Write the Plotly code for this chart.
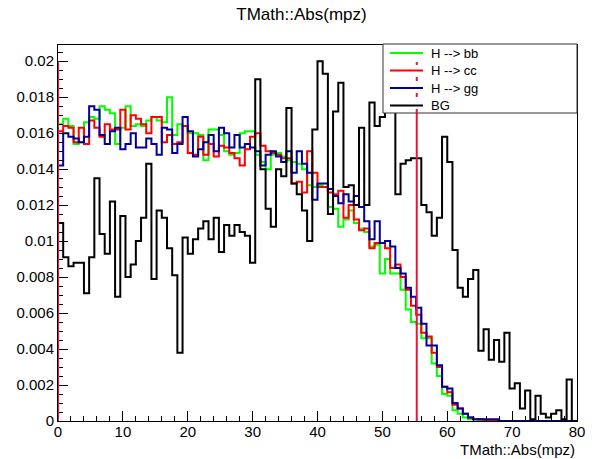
import numpy as np
import plotly.graph_objects as go

# ---------------- data ----------------
x_min, x_max, n_bins = 0.0, 80.0, 100

bb = [0.0165, 0.0168, 0.0164, 0.0154, 0.0155, 0.0166, 0.0169, 0.0168, 0.0175, 0.0173,
      0.0171, 0.0154, 0.0163, 0.0175, 0.0164, 0.0165, 0.0164, 0.0167, 0.0169, 0.0167,
      0.0166, 0.0180, 0.0159, 0.0165, 0.0164, 0.0160, 0.0160, 0.0159, 0.0145, 0.0162,
      0.0162, 0.0159, 0.0150, 0.0148, 0.0149, 0.0160, 0.0161, 0.0161, 0.0148, 0.0144,
      0.0140, 0.0148, 0.0149, 0.0147, 0.0145, 0.0144, 0.0143, 0.0140, 0.0131, 0.0130,
      0.0131, 0.0130, 0.0119, 0.0118, 0.0108, 0.0112, 0.0117, 0.0110, 0.0107, 0.0105,
      0.0097, 0.0098, 0.0082, 0.0090, 0.0082, 0.0082, 0.0073, 0.0062, 0.0055, 0.0054,
      0.0046, 0.0046, 0.0032, 0.0025, 0.0015, 0.0014, 0.0006, 0.0004, 0.0002, 0.0001,
      0.0001, 0.0, 0.0, 0.0, 0.0, 0.0, 0.0, 0.0, 0.0, 0.0,
      0.0, 0.0, 0.0, 0.0, 0.0, 0.0, 0.0, 0.0, 0.0, 0.0]

cc = [0.0161, 0.0164, 0.0163, 0.0155, 0.0163, 0.0154, 0.0167, 0.0163, 0.0158, 0.0165,
      0.0162, 0.0162, 0.0173, 0.0162, 0.0170, 0.0168, 0.0165, 0.0160, 0.0169, 0.0169,
      0.0155, 0.0159, 0.0154, 0.0155, 0.0164, 0.0149, 0.0148, 0.0158, 0.0148, 0.0154,
      0.0147, 0.0153, 0.0152, 0.0149, 0.0146, 0.0142, 0.0151, 0.0158, 0.0160, 0.0153,
      0.0150, 0.0149, 0.0148, 0.0146, 0.0146, 0.0132, 0.0133, 0.0127, 0.0150, 0.0138,
      0.0130, 0.0130, 0.0127, 0.0126, 0.0128, 0.0113, 0.0120, 0.0112, 0.0106, 0.0107,
      0.0096, 0.0099, 0.0099, 0.0096, 0.0085, 0.0087, 0.0080, 0.0073, 0.0064, 0.0059,
      0.0049, 0.0047, 0.0038, 0.0030, 0.0019, 0.0016, 0.0009, 0.0007, 0.0004, 0.0002,
      0.0001, 0.0001, 0.0, 0.0, 0.0, 0.0, 0.0, 0.0, 0.0, 0.0,
      0.0, 0.0, 0.0, 0.0, 0.0, 0.0, 0.0, 0.0, 0.0, 0.0]

gg = [0.0142, 0.0160, 0.0158, 0.0157, 0.0155, 0.0158, 0.0175, 0.0173, 0.0159, 0.0154,
      0.0161, 0.0163, 0.0151, 0.0154, 0.0160, 0.0152, 0.0152, 0.0157, 0.0154, 0.0148,
      0.0163, 0.0162, 0.0149, 0.0154, 0.0169, 0.0161, 0.0147, 0.0151, 0.0155, 0.0159,
      0.0150, 0.0163, 0.0160, 0.0152, 0.0159, 0.0152, 0.0154, 0.0152, 0.0150, 0.0142,
      0.0148, 0.0150, 0.0147, 0.0144, 0.0150, 0.0138, 0.0150, 0.0143, 0.0138, 0.0123,
      0.0132, 0.0132, 0.0129, 0.0125, 0.0121, 0.0126, 0.0122, 0.0125, 0.0119, 0.0111,
      0.0101, 0.0111, 0.0099, 0.0100, 0.0097, 0.0085, 0.0082, 0.0074, 0.0069, 0.0063,
      0.0054, 0.0042, 0.0042, 0.0031, 0.0019, 0.0018, 0.0010, 0.0007, 0.0004, 0.0002,
      0.0001, 0.0001, 0.0001, 0.0001, 0.0001, 0.0, 0.0, 0.0, 0.0, 0.0,
      0.0, 0.0, 0.0, 0.0, 0.0, 0.0, 0.0, 0.0, 0.0, 0.0]

bg = [0.0110, 0.0091, 0.0086, 0.0088, 0.0088, 0.0071, 0.0091, 0.0135, 0.0104, 0.0093,
      0.0122, 0.0069, 0.0114, 0.0080, 0.0087, 0.0100, 0.0113, 0.0143, 0.0079, 0.0117,
      0.0113, 0.0096, 0.0081, 0.0038, 0.0102, 0.0093, 0.0101, 0.0107, 0.0111, 0.0101,
      0.0113, 0.0094, 0.0109, 0.0103, 0.0109, 0.0105, 0.0103, 0.0088, 0.0190, 0.0140,
      0.0118, 0.0108, 0.0140, 0.0136, 0.0174, 0.0132, 0.0126, 0.0117, 0.0100, 0.0162,
      0.0200, 0.0193, 0.0115, 0.0172, 0.0188, 0.0130, 0.0131, 0.0120, 0.0163, 0.0120,
      0.0177, 0.0164, 0.0169, 0.0185, 0.0178, 0.0126, 0.0143, 0.0145, 0.0146, 0.0146,
      0.0120, 0.0116, 0.0103, 0.0113, 0.0158, 0.0144, 0.0095, 0.0074, 0.0069, 0.0079,
      0.0084, 0.0039, 0.0051, 0.0034, 0.0045, 0.0033, 0.0049, 0.0018, 0.0021, 0.0007,
      0.0017, 0.0001, 0.0014, 0.0004, 0.0002, 0.0004, 0.0006, 0.0001, 0.0023, 0.0000]

series_names = ["H --> bb", "H --> cc", "H --> gg", "BG"]
series_values = [bb, cc, gg, bg]
series_colors = ["#00ff00", "#ff0000", "#000099", "#000000"]

cut_values = [0.0, 55.3]
cut_top = 0.02

plot_title = "TMath::Abs(mpz)"
x_title = "TMath::Abs(mpz)"
x_tickvals = [0, 10, 20, 30, 40, 50, 60, 70, 80]
x_ticktext = ["0", "10", "20", "30", "40", "50", "60", "70", "80"]
y_tickvals = [0, 0.002, 0.004, 0.006, 0.008, 0.01, 0.012, 0.014, 0.016, 0.018, 0.02]
y_ticktext = ["0", "0.002", "0.004", "0.006", "0.008", "0.01", "0.012", "0.014",
              "0.016", "0.018", "0.02"]
y_max = 0.0209

# ---------------- figure ----------------
edges = np.linspace(x_min, x_max, n_bins + 1)
FONT = "Liberation Sans, Arial, Helvetica, sans-serif"

fig = go.Figure()
for name, vals, col in zip(series_names, series_values, series_colors):
    xs = [x_min] + list(edges[:-1]) + [x_max, x_max]
    ys = [0.0] + list(vals) + [vals[-1], 0.0]
    fig.add_trace(go.Scatter(x=xs, y=ys, mode="lines", name=name,
                             line=dict(color=col, width=2, shape="hv"),
                             hoverinfo="skip", showlegend=False))

cut_color = "rgb(235,20,60)"
shapes = []
for c in cut_values:
    shapes.append(dict(type="line", xref="x", yref="y", x0=c, x1=c, y0=0, y1=cut_top,
                       line=dict(color=cut_color, width=2), layer="above"))

# pixel -> paper helpers (plot frame in px)
L, R, T, B = 58, 577, 45, 421
W, H = R - L, B - T
def px_x(p): return (p - L) / W
def px_y(p): return (B - p) / H

# legend box
lb_x0, lb_x1, lb_y0, lb_y1 = px_x(383), px_x(577), px_y(113), px_y(44)
shapes.append(dict(type="rect", xref="paper", yref="paper", x0=lb_x0, x1=lb_x1,
                   y0=lb_y0, y1=lb_y1, fillcolor="white",
                   line=dict(color="#333333", width=1), layer="above"))
shapes.append(dict(type="line", xref="x", yref="paper", x0=cut_values[1], x1=cut_values[1],
                   y0=lb_y0, y1=px_y(62),
                   line=dict(color=cut_color, width=2, dash="4px,12px"),
                   layer="above"))

annotations = []
row_y = [53, 70.5, 88, 105.5]
for name, col, ry in zip(series_names, series_colors, row_y):
    shapes.append(dict(type="line", xref="paper", yref="paper",
                       x0=px_x(390), x1=px_x(423), y0=px_y(ry), y1=px_y(ry),
                       line=dict(color=col, width=2), layer="above"))
    annotations.append(dict(text=name, xref="paper", yref="paper", x=px_x(429),
                            y=px_y(ry), xanchor="left", yanchor="middle",
                            showarrow=False, font=dict(size=13)))

annotations.append(dict(text=x_title, xref="paper", yref="paper", x=1.0, y=px_y(449),
                        xanchor="right", yanchor="middle", showarrow=False,
                        font=dict(size=15)))

fig.update_layout(
    width=603, height=459,
    margin=dict(l=L, r=603 - R, t=T, b=459 - B),
    paper_bgcolor="white", plot_bgcolor="white",
    font=dict(family=FONT, color="black", size=15),
    title=dict(text=plot_title, x=0.5, xanchor="center", y=1 - 14 / 459,
               yanchor="middle", yref="container", font=dict(size=17)),
    showlegend=False,
    shapes=shapes,
    annotations=annotations,
)

fig.update_xaxes(range=[x_min, x_max], showgrid=False, zeroline=False,
                 showline=True, mirror=True, linecolor="black", linewidth=1,
                 ticks="inside", ticklen=10, tickcolor="black", tickwidth=1,
                 tickmode="array", tickvals=x_tickvals, ticktext=x_ticktext,
                 ticklabelstandoff=-3,
                 minor=dict(ticks="inside", ticklen=5, dtick=2, tick0=0,
                            tickcolor="black", showgrid=False))
fig.update_yaxes(range=[0, y_max], showgrid=False, zeroline=False,
                 showline=True, mirror=True, linecolor="black", linewidth=1,
                 ticks="inside", ticklen=10, tickcolor="black", tickwidth=1,
                 tickmode="array", tickvals=y_tickvals, ticktext=y_ticktext,
                 minor=dict(ticks="inside", ticklen=5, dtick=0.0005, tick0=0,
                            tickcolor="black", showgrid=False))

fig.write_html("out.html")
